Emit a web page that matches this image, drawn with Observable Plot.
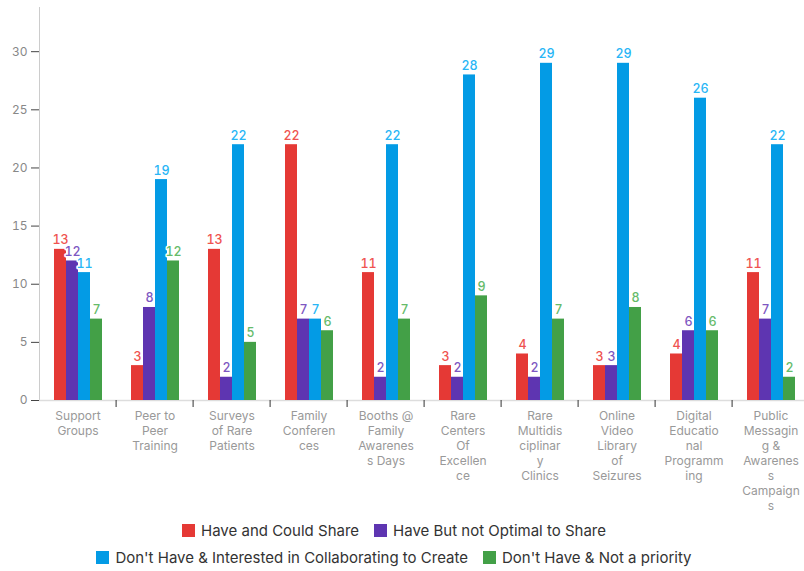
<!DOCTYPE html>
<html><head><meta charset="utf-8">
<script src="https://cdn.jsdelivr.net/npm/d3@7"></script>
<script src="https://cdn.jsdelivr.net/npm/@observablehq/plot@0.6"></script>
<style>
html,body{margin:0;padding:0;background:#fff;overflow:hidden;}
#chart{width:804px;overflow:hidden;}
.legend{width:788px;padding-top:2px;font-family:Inter,sans-serif;font-size:15px;color:#333;}
.row{display:flex;justify-content:center;height:27px;align-items:center;}
.item{display:flex;align-items:center;margin:0 7.5px;white-space:nowrap;}
.sw{width:13px;height:13px;margin-right:6px;flex:none;}
</style></head><body>
<div id="chart"></div>
<div class="legend" id="legend"></div>
<script>
const categories = ["Support Groups","Peer to Peer Training","Surveys of Rare Patients","Family Conferences","Booths @ Family Awareness Days","Rare Centers Of Excellence","Rare Multidisciplinary Clinics","Online Video Library of Seizures","Digital Educational Programming","Public Messaging & Awareness Campaigns"];
const tickLabels = ["Support\nGroups","Peer to\nPeer\nTraining","Surveys\nof Rare\nPatients","Family\nConferen\nces","Booths @\nFamily\nAwarenes\ns Days","Rare\nCenters\nOf\nExcellen\nce","Rare\nMultidis\nciplinar\ny\nClinics","Online\nVideo\nLibrary\nof\nSeizures","Digital\nEducatio\nnal\nProgramm\ning","Public\nMessagin\ng &\nAwarenes\ns\nCampaign\ns"];
const series = ["Have and Could Share","Have But not Optimal to Share","Don't Have & Interested in Collaborating to Create","Don't Have & Not a priority"];
const haveCouldShare = [13,3,13,22,11,3,4,3,4,11];
const haveNotOptimal = [12,8,2,7,2,2,2,3,6,7];
const interestedCreate = [11,19,22,7,22,28,29,29,26,22];
const notPriority = [7,12,5,6,7,9,7,8,6,2];
const yTicks = [0,5,10,15,20,25,30];
const barColors = ["#e53935","#5e35b1","#039be5","#43a047"];
const labelColors = ["#ef5350","#7e57c2","#29b6f6","#66bb6a"];
const legendRows = [[0,1],[2,3]];

const seriesValues = [haveCouldShare, haveNotOptimal, interestedCreate, notPriority];
const data = categories.flatMap((c, i) => series.map((s, j) => ({category: c, series: s, value: seriesValues[j][i], si: j})));
const labelOf = new Map(categories.map((c, i) => [c, tickLabels[i]]));

const width = 804, marginLeft = 35, marginRight = -9;
const bandwidth = (width - marginLeft - marginRight) / categories.length;

const chart = Plot.plot({
  width, height: 515,
  marginLeft, marginRight, marginTop: 7, marginBottom: 115,
  style: {fontFamily: "Inter, sans-serif", background: "#fff"},
  fx: {domain: categories, paddingInner: 0, paddingOuter: 0, label: null, axis: null},
  x: {domain: series, paddingInner: 0, paddingOuter: 1.2, axis: null},
  y: {domain: [0, 33.8], axis: null},
  color: {domain: series, range: barColors},
  marks: [
    Plot.frame({anchor: "left", stroke: "#ccc", facet: "super"}),
    Plot.ruleY([0], {stroke: "#ddd", strokeWidth: 1.5}),
    Plot.barY(data, {fx: "category", x: "series", y: "value", fill: "series"}),
    Plot.text(data, {fx: "category", x: "series", y: "value", text: "value", lineAnchor: "bottom", dy: -5,
      fill: d => labelColors[d.si], stroke: "white", strokeWidth: 3, fontSize: 12.5, fontWeight: 500}),
    Plot.axisY({ticks: yTicks, tickSize: 8, tickPadding: 4, stroke: "#444", fill: "#888", fontSize: 12, label: null}),
    Plot.axisFx({anchor: "bottom", ticks: categories.slice(1), tickFormat: () => "", tickSize: 7, dx: -bandwidth / 2, stroke: "#333", label: null}),
    Plot.axisFx({anchor: "bottom", tickFormat: d => labelOf.get(d), tickSize: 0, tickPadding: 9, fill: "#999", fontSize: 12, lineHeight: 1.25, label: null})
  ]
});
document.getElementById("chart").append(chart);

const legend = document.getElementById("legend");
for (const row of legendRows) {
  const r = document.createElement("div");
  r.className = "row";
  for (const j of row) {
    const it = document.createElement("div");
    it.className = "item";
    const sw = document.createElement("span");
    sw.className = "sw";
    sw.style.background = barColors[j];
    const tx = document.createElement("span");
    tx.textContent = series[j];
    it.append(sw, tx);
    r.append(it);
  }
  legend.append(r);
}
</script>
</body></html>
